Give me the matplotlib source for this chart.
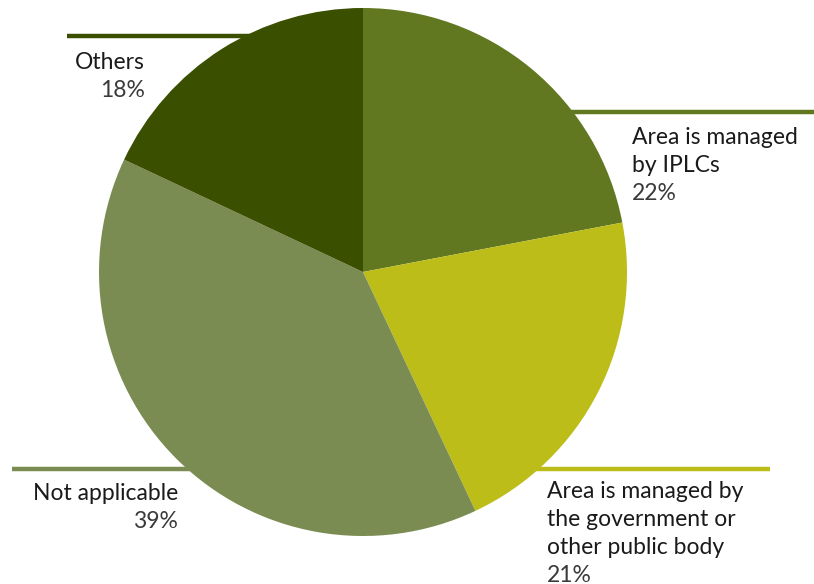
import matplotlib.pyplot as plt

labels = ["Area is managed\nby IPLCs", "Area is managed by\nthe government or\nother public body",
          "Not applicable", "Others"]
shares = [22, 21, 39, 18]
colors = ["#617720", "#bdbd19", "#7a8c51", "#3b4f00"]

W, H = 814, 584
fig = plt.figure(figsize=(W / 100, H / 100), dpi=100)
ax = fig.add_axes([0, 0, 1, 1])

# leader bars sit behind the pie
bars = [(570, 814, 112), (470, 770, 469), (12, 190, 469), (67, 300, 36)]
for (x0, x1, y), c in zip(bars, colors):
    ax.plot([x0, x1], [H - y, H - y], color=c, lw=3.2, solid_capstyle="butt", zorder=1)

ax.pie(shares, colors=colors, startangle=90, counterclock=False,
       center=(363, H - 272), radius=264, frame=True,
       wedgeprops=dict(linewidth=0, zorder=2))
ax.set_xlim(0, W)
ax.set_ylim(0, H)
ax.set_aspect("equal")
ax.axis("off")

font = "Lato"
step = 28
# label text: (x, baseline of first line, alignment)
spots = [(632, 144, "left"), (547, 498, "left"), (178, 500, "right"), (145, 69, "right")]
for (x, y, ha), lab, v in zip(spots, labels, shares):
    lines = lab.split("\n")
    for i, line in enumerate(lines):
        ax.text(x, H - (y + step * i), line, ha=ha, va="baseline", fontsize=16.5,
                family=font, color="#1a1a1a", zorder=5)
    ax.text(x, H - (y + step * len(lines)), f"{v}%", ha=ha, va="baseline",
            fontsize=16.5, family=font, color="#3a3a3a", zorder=5)

fig.savefig("out.png", dpi=100)
